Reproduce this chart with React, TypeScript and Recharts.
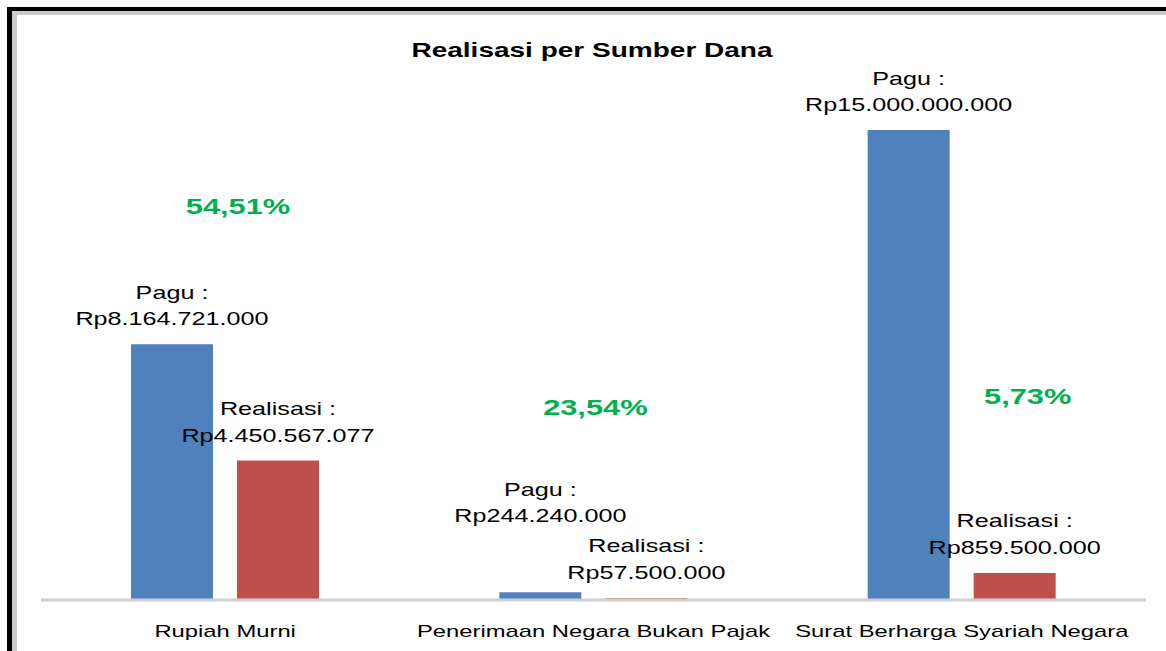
import { Bar, BarChart, LabelList, XAxis, YAxis } from "recharts";

const categories = ["Rupiah Murni", "Penerimaan Negara Bukan Pajak", "Surat Berharga Syariah Negara"];
const pagu = [8164721000, 244240000, 15000000000];
const realisasi = [4450567077, 57500000, 859500000];

const data = categories.map((name, i) => ({ name, pagu: pagu[i], realisasi: realisasi[i] }));

const FONT = "'Liberation Sans', Arial, sans-serif";
const STRETCH = 1.4;

// hand-placed text boxes in the original, keyed by category index
const paguLift = [0, 52, 0];
const percentPos = [{ dx: -40, y: 207 }, { dx: -51, y: 408 }, { dx: 13, y: 397 }];

const rupiah = (n: number) => "Rp" + Math.round(n).toString().replace(/\B(?=(\d{3})+(?!\d))/g, ".");
const percent = (i: number) => ((realisasi[i] / pagu[i]) * 100).toFixed(2).replace(".", ",") + "%";

const StretchText = ({ x, y, size, weight = "normal", fill = "#000", children }: any) => (
  <text
    transform={`translate(${x},${y}) scale(${STRETCH},1)`}
    textAnchor="middle"
    dominantBaseline="central"
    fontFamily={FONT}
    fontSize={size}
    fontWeight={weight}
    fill={fill}
  >
    {children}
  </text>
);

const PaguLabel = (props: any) => {
  const { x, y, width, value, index } = props;
  const cx = x + width / 2;
  const top = y - paguLift[index];
  return (
    <g>
      <StretchText x={cx} y={top - 51} size={18}>Pagu :</StretchText>
      <StretchText x={cx} y={top - 25} size={18}>{rupiah(value)}</StretchText>
    </g>
  );
};

const RealisasiLabel = (props: any) => {
  const { x, y, width, value, index } = props;
  const cx = x + width / 2;
  const pos = percentPos[index];
  return (
    <g>
      <StretchText x={cx} y={y - 52} size={18}>Realisasi :</StretchText>
      <StretchText x={cx} y={y - 25} size={18}>{rupiah(value)}</StretchText>
      <StretchText x={cx + pos.dx} y={pos.y} size={22} weight="bold" fill="#00B050">{percent(index)}</StretchText>
    </g>
  );
};

const CategoryTick = ({ x, y, payload }: any) => (
  <StretchText x={x} y={y + 23} size={17}>{payload.value}</StretchText>
);

export default function App() {
  return (
    <div style={{ position: "absolute", left: 0, top: 0, width: 1166, height: 651, overflow: "hidden", background: "#fff" }}>
      <div
        style={{
          position: "absolute",
          left: 7,
          top: 7,
          right: -30,
          bottom: -30,
          borderLeft: "5px solid #000",
          borderTop: "4px solid #000",
        }}
      >
        <div style={{ position: "absolute", inset: 0, borderLeft: "5px solid #CACACA", borderTop: "4px solid #CACACA", background: "#fff" }} />
      </div>
      <div
        style={{
          position: "absolute",
          left: 592,
          top: 50,
          transform: `translate(-50%, -50%) scaleX(${STRETCH})`,
          fontFamily: FONT,
          fontSize: 20,
          fontWeight: "bold",
          whiteSpace: "nowrap",
          color: "#000",
        }}
      >
        Realisasi per Sumber Dana
      </div>
      <div style={{ position: "absolute", left: 0, top: 0 }}>
        <BarChart
          width={1166}
          height={651}
          data={data}
          margin={{ top: 130, right: 20, bottom: 11, left: 41 }}
          barSize={82}
          barGap={24}
        >
          <XAxis
            dataKey="name"
            tickLine={false}
            axisLine={{ stroke: "#CFCFCF", strokeWidth: 3 }}
            tick={<CategoryTick />}
            height={40}
            interval={0}
          />
          <YAxis hide domain={[0, 15000000000]} />
          <Bar dataKey="pagu" fill="#4F81BD" isAnimationActive={false}>
            <LabelList dataKey="pagu" content={<PaguLabel />} />
          </Bar>
          <Bar dataKey="realisasi" fill="#C0504D" isAnimationActive={false}>
            <LabelList dataKey="realisasi" content={<RealisasiLabel />} />
          </Bar>
        </BarChart>
      </div>
    </div>
  );
}
